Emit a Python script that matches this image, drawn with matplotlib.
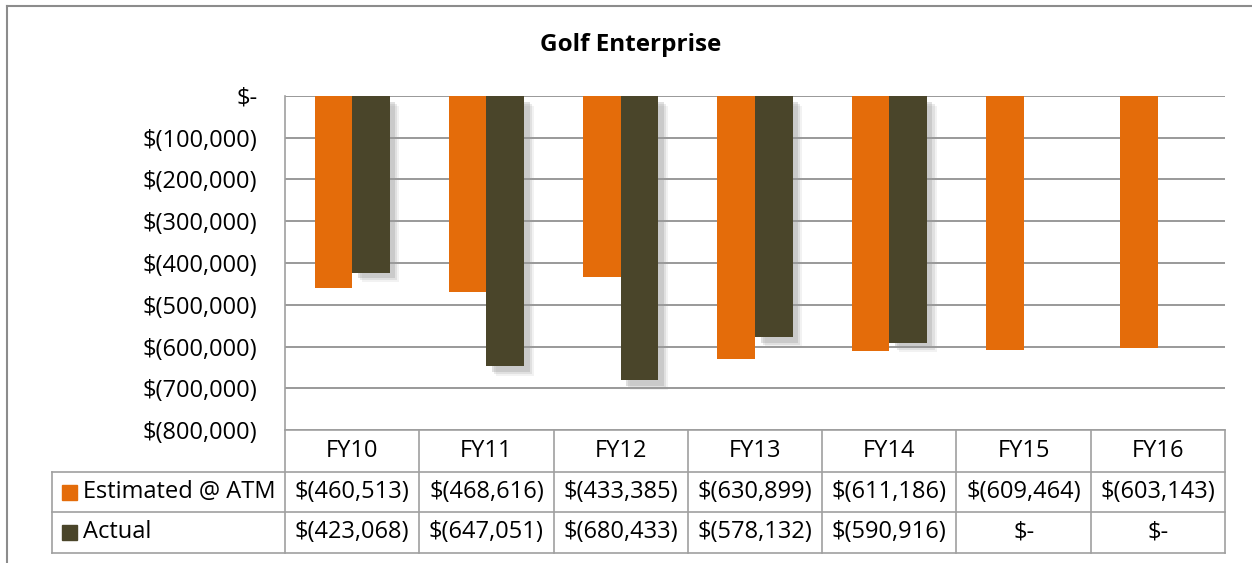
import numpy as np
import matplotlib
matplotlib.use("Agg")
import matplotlib.pyplot as plt
import matplotlib.patheffects as pe

plt.rcParams['font.family'] = ['Open Sans', 'DejaVu Sans']

# data
years = ['FY10', 'FY11', 'FY12', 'FY13', 'FY14', 'FY15', 'FY16']
estimated = [-460513, -468616, -433385, -630899, -611186, -609464, -603143]
actual = [-423068, -647051, -680433, -578132, -590916, 0, 0]
series_names = ['Estimated @ ATM', 'Actual']
colors = ['#E46C0A', '#4A452A']
yticks = list(range(0, -800001, -100000))


def fmt(v):
    if v == 0:
        return '$-'
    return '$({:,})'.format(abs(v))


W, H = 1252, 563
fs = 17
fig = plt.figure(figsize=(W / 100, H / 100), dpi=100)

# plot area in pixels
px_l, px_r, px_t, px_b = 285, 1225, 96, 430
ax = fig.add_axes([px_l / W, (H - px_b) / H, (px_r - px_l) / W, (px_b - px_t) / H])

x = np.arange(len(years))
w = 0.28
ax.bar(x - w / 2, estimated, w, color=colors[0], zorder=3)
shadow = [pe.SimplePatchShadow(offset=(o, -o), shadow_rgbFace='#9a9a9a', alpha=a)
          for o, a in [(7, 0.12), (5.5, 0.2), (4, 0.3)]] + [pe.Normal()]
bars = ax.bar(x + w / 2, actual, w, color=colors[1], zorder=3)
for b in bars:
    b.set_path_effects(shadow)

ax.set_xlim(-0.5, len(years) - 0.5)
ax.set_ylim(-800000, 0)
ax.set_yticks(yticks)
ax.set_yticklabels([fmt(v) for v in yticks], fontsize=fs)
ax.tick_params(axis='y', length=0, pad=20)
ax.set_xticks([])
ax.yaxis.grid(True, color='#878787', linewidth=1.2, zorder=0)
for s in ['top', 'right', 'bottom']:
    ax.spines[s].set_visible(False)
ax.spines['left'].set_color('#a0a0a0')
ax.spines['left'].set_linewidth(1.2)

fig.text(631 / W, 1 - 45 / H, 'Golf Enterprise', ha='center', va='center',
         fontsize=17.5, fontweight='bold')

# data table drawn in pixel coords
tab = fig.add_axes([0, 0, 1, 1], zorder=5)
tab.set_xlim(0, W)
tab.set_ylim(H, 0)
tab.axis('off')
tab.patch.set_alpha(0)

lc = '#a0a0a0'
lw = 1.2
rows_y = [430, 472, 512, 553]
tbl_l = 52
col_w = (px_r - px_l) / len(years)
edges = [px_l + i * col_w for i in range(len(years) + 1)]

tab.plot([px_l, px_r], [rows_y[0], rows_y[0]], color=lc, lw=lw)
for yy in rows_y[1:]:
    tab.plot([tbl_l, px_r], [yy, yy], color=lc, lw=lw)
for xx in edges:
    tab.plot([xx, xx], [rows_y[0], rows_y[-1]], color=lc, lw=lw)
tab.plot([tbl_l, tbl_l], [rows_y[1], rows_y[-1]], color=lc, lw=lw)

for i, yr in enumerate(years):
    cx = (edges[i] + edges[i + 1]) / 2
    tab.text(cx, (rows_y[0] + rows_y[1]) / 2, yr, ha='center', va='center', fontsize=fs)
    for r, vals in enumerate([estimated, actual]):
        tab.text(cx, (rows_y[r + 1] + rows_y[r + 2]) / 2, fmt(vals[i]),
                 ha='center', va='center', fontsize=fs)

for r, name in enumerate(series_names):
    cy = (rows_y[r + 1] + rows_y[r + 2]) / 2
    tab.add_patch(plt.Rectangle((62, cy - 7.5), 15, 15, color=colors[r]))
    tab.text(83, cy, name, ha='left', va='center', fontsize=fs)

# outer chart frame (left and top visible)
tab.plot([7, 7], [6, H], color='#8c8c8c', lw=1.5)
tab.plot([7, W], [6, 6], color='#8c8c8c', lw=1.5)

fig.savefig('out.png', dpi=100)
